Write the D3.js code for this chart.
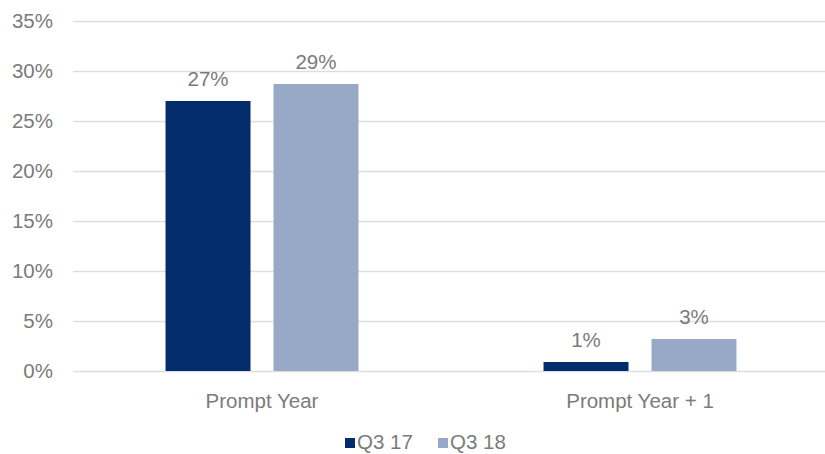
<!DOCTYPE html>
<html>
<head>
<meta charset="utf-8">
<script src="https://cdn.jsdelivr.net/npm/d3@7"></script>
<style>
  html, body { margin: 0; padding: 0; background: #fff; }
  svg { display: block; font-family: "Liberation Sans", Arial, sans-serif; }
</style>
</head>
<body>
<svg id="chart" width="825" height="454"></svg>
<script>
// Share of volume by delivery period, Q3 2017 vs Q3 2018
const categories = ["Prompt Year", "Prompt Year + 1"];
const seriesNames = ["Q3 17", "Q3 18"];
const q317 = [0.27, 0.009];
const q318 = [0.287, 0.032];
const yTicks = [0, 0.05, 0.10, 0.15, 0.20, 0.25, 0.30, 0.35];
const colors = ["#022c6c", "#98a9c7"];

const seriesValues = [q317, q318];
const svg = d3.select("#chart");
const textColor = "#7b7b7b";
const fontSize = 20.5;

const margin = { left: 73, right: -4, top: 21, bottom: 83 };
const width = 825, height = 454;

const y = d3.scaleLinear()
  .domain([0, 0.35])
  .range([height - margin.bottom, margin.top]);

const x0 = d3.scaleBand()
  .domain(categories)
  .range([margin.left, width - margin.right])
  .padding(0);

const x1 = d3.scaleBand()
  .domain(seriesNames)
  .range([0, x0.bandwidth()])
  .paddingInner(0.213)
  .paddingOuter(0.857);

const pct = d3.format(".0%");

// gridlines
svg.append("g")
  .selectAll("line")
  .data(yTicks)
  .join("line")
  .attr("x1", margin.left)
  .attr("x2", width)
  .attr("y1", d => Math.round(y(d)) + 0.5)
  .attr("y2", d => Math.round(y(d)) + 0.5)
  .attr("stroke", "#dedede")
  .attr("stroke-width", 1.5);

// y axis labels
const yAxis = d3.axisLeft(y).tickValues(yTicks).tickFormat(pct).tickSize(0).tickPadding(0);
const gy = svg.append("g")
  .attr("transform", `translate(${margin.left - 20},0)`)
  .call(yAxis);
gy.select(".domain").remove();
gy.selectAll("text")
  .attr("fill", textColor)
  .attr("font-size", fontSize)
  .attr("font-family", "Liberation Sans, Arial, sans-serif");

// bars
const groups = svg.append("g")
  .selectAll("g")
  .data(categories)
  .join("g")
  .attr("transform", d => `translate(${x0(d)},0)`);

groups.selectAll("rect")
  .data((c, i) => seriesNames.map((s, j) => ({ s, v: seriesValues[j][i], j })))
  .join("rect")
  .attr("x", d => x1(d.s))
  .attr("width", x1.bandwidth())
  .attr("y", d => y(d.v))
  .attr("height", d => y(0) - y(d.v))
  .attr("fill", d => colors[d.j]);

// value labels
groups.selectAll("text")
  .data((c, i) => seriesNames.map((s, j) => ({ s, v: seriesValues[j][i], j })))
  .join("text")
  .attr("x", d => x1(d.s) + x1.bandwidth() / 2)
  .attr("y", d => y(d.v) - 15)
  .attr("text-anchor", "middle")
  .attr("fill", textColor)
  .attr("font-size", fontSize)
  .text(d => pct(d.v));

// category axis
const xAxis = d3.axisBottom(x0).tickSize(0).tickPadding(0);
const gx = svg.append("g")
  .attr("transform", `translate(0,${y(0) + 22})`)
  .call(xAxis);
gx.select(".domain").remove();
gx.selectAll("text")
  .attr("fill", textColor)
  .attr("font-size", fontSize)
  .attr("font-family", "Liberation Sans, Arial, sans-serif")
  .attr("dy", "0.71em");

// legend
const legendItems = [
  { name: seriesNames[0], color: colors[0], x: 345 },
  { name: seriesNames[1], color: colors[1], x: 438 }
];
const lg = svg.append("g");
legendItems.forEach(it => {
  lg.append("rect")
    .attr("x", it.x).attr("y", 438)
    .attr("width", 10).attr("height", 10)
    .attr("fill", it.color);
  lg.append("text")
    .attr("x", it.x + 12).attr("y", 449)
    .attr("fill", textColor)
    .attr("font-size", fontSize)
    .text(it.name);
});
</script>
</body>
</html>
